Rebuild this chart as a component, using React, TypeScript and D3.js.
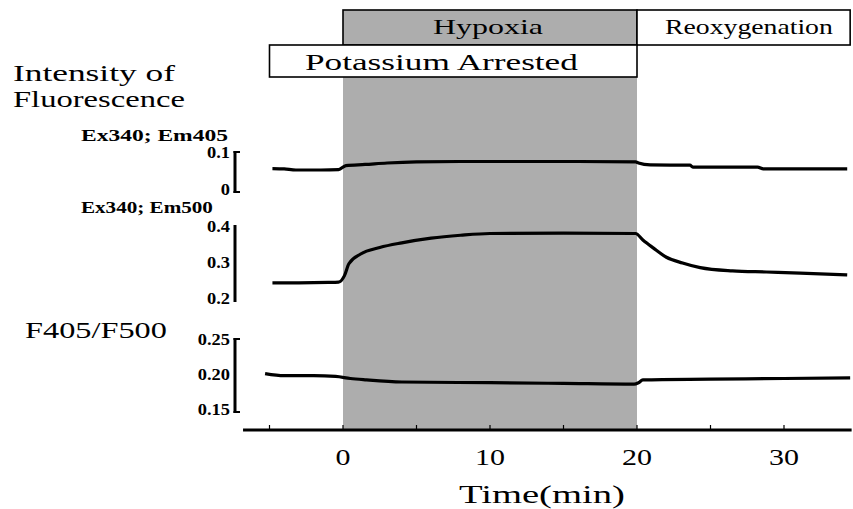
import React, { useLayoutEffect, useRef, useState } from "react";
import * as d3 from "d3";

// Experimental protocol phases (minutes)
const phaseLabels = ["Hypoxia", "Reoxygenation", "Potassium Arrested"];
const phaseStart = [0, 20, -5];
const phaseEnd = [20, 34.5, 20];
const phaseRow = [0, 0, 1];

// Time axis
const timeTicks = [-5, 0, 5, 10, 15, 20, 25, 30];
const timeLabels = [0, 10, 20, 30];

// Ex340; Em405 trace
const t405 = [-4.8, -4, -3.2, -1.5, -0.3, 0.2, 1.5, 3, 5, 8, 12, 16, 19.9, 20.1, 20.9, 23.6, 23.8, 28.2, 28.6, 34.3];
const v405 = [0.058, 0.057, 0.054, 0.054, 0.055, 0.066, 0.069, 0.073, 0.076, 0.077, 0.077, 0.077, 0.076, 0.073, 0.068, 0.067, 0.062, 0.062, 0.057, 0.057];

// Ex340; Em500 trace
const t500 = [-4.8, -3, -1, -0.3, 0.1, 0.4, 1.2, 2.5, 4, 6, 8, 10, 15, 19.9, 20.4, 21.1, 22, 23.1, 24.3, 26.5, 28.8, 31.1, 34.3];
const v500 = [0.245, 0.245, 0.246, 0.247, 0.265, 0.298, 0.325, 0.343, 0.356, 0.369, 0.377, 0.382, 0.383, 0.382, 0.364, 0.342, 0.316, 0.300, 0.287, 0.278, 0.275, 0.272, 0.267];

// F405/F500 ratio trace
const tRatio = [-5.3, -4, -2, -0.5, 0.5, 1.6, 4, 10, 15, 19.8, 20.1, 20.4, 25, 30, 34.5];
const vRatio = [0.202, 0.199, 0.199, 0.198, 0.195, 0.193, 0.190, 0.189, 0.188, 0.187, 0.189, 0.193, 0.194, 0.195, 0.196];

const ticks405 = ["0.1", "0"];
const ticks500 = ["0.4", "0.3", "0.2"];
const ticksRatio = ["0.25", "0.20", "0.15"];

const serif = { fontFamily: '"Liberation Serif"' };

type FitProps = {
  x: number;
  y: number;
  w?: number;
  sx?: number;
  size: number;
  bold?: boolean;
  anchor?: "start" | "middle" | "end";
  children: React.ReactNode;
};

// Text widened horizontally to a target width (or by a fixed factor)
function FitText({ x, y, w, sx = 1, size, bold, anchor = "start", children }: FitProps) {
  const ref = useRef<SVGTextElement>(null);
  const [s, setS] = useState(sx);
  useLayoutEffect(() => {
    if (w && ref.current) {
      const len = ref.current.getComputedTextLength();
      if (len > 0) setS(w / len);
    }
  }, [w, children]);
  return (
    <g transform={`translate(${x},${y}) scale(${s},1)`}>
      <text
        ref={ref}
        style={serif}
        fontSize={size}
        fontWeight={bold ? "bold" : undefined}
        textAnchor={anchor}
        fill="#000"
      >
        {children}
      </text>
    </g>
  );
}

export default function App() {
  const x = d3.scaleLinear().domain([0, 20]).range([343, 637]);
  const y405 = d3.scaleLinear().domain([0, 0.1]).range([190, 153]);
  const y500 = d3.scaleLinear().domain([0.2, 0.4]).range([299, 227]);
  const yRatio = d3.scaleLinear().domain([0.15, 0.25]).range([410, 340]);

  const rowTop = [10, 45];
  const rowH = [35, 32];
  const labelLen = [110, 168, 273];
  const labelLeft = [433, 665, 305];
  const labelBase = [34, 70];
  const axisY = 430;

  const mk = (ys: d3.ScaleLinear<number, number>) =>
    d3
      .line<[number, number]>()
      .x((d) => x(d[0]))
      .y((d) => ys(d[1]))
      .curve(d3.curveMonotoneX);

  const path405 = mk(y405)(t405.map((t, i) => [t, v405[i]]));
  const path500 = mk(y500)(t500.map((t, i) => [t, v500[i]]));
  const pathRatio = mk(yRatio)(tRatio.map((t, i) => [t, vRatio[i]]));

  const bracket = (
    ys: d3.ScaleLinear<number, number>,
    top: number,
    bottom: number,
    feet: boolean
  ) => {
    const bx = 235;
    const y0 = ys(top) - 2;
    const y1 = ys(bottom) + 3;
    return (
      <g stroke="#000" fill="none" strokeWidth={3}>
        <line x1={bx} x2={bx} y1={y0} y2={y1} />
        {feet && <line x1={bx - 1.5} x2={bx + 5} y1={y0 + 1} y2={y0 + 1} strokeWidth={2} />}
        {feet && <line x1={bx - 1.5} x2={bx + 5} y1={y1 - 1} y2={y1 - 1} strokeWidth={2} />}
      </g>
    );
  };

  const tickText = (labels: string[], ys: d3.ScaleLinear<number, number>) =>
    labels.map((l) => (
      <FitText key={l} x={230} y={ys(parseFloat(l)) + 5} sx={1.15} size={16} bold anchor="end">
        {l}
      </FitText>
    ));

  return (
    <svg width={853} height={509} style={{ position: "absolute", left: 0, top: 0 }}>
      <rect width={853} height={509} fill="#fff" />
      {/* hypoxia shading */}
      <rect x={x(0)} y={rowTop[0]} width={x(20) - x(0)} height={axisY - rowTop[0]} fill="#adadad" />

      {/* phase boxes */}
      {phaseLabels.map((lab, i) => {
        const r = phaseRow[i];
        const x0 = x(phaseStart[i]);
        const x1 = x(phaseEnd[i]);
        return (
          <g key={lab}>
            <rect
              x={x0}
              y={rowTop[r]}
              width={x1 - x0}
              height={rowH[r]}
              fill={lab === "Hypoxia" ? "none" : "#fff"}
              stroke="#000"
              strokeWidth={1.6}
            />
            <FitText x={labelLeft[i]} y={labelBase[r]} w={labelLen[i]} size={r === 0 ? 22 : 24}>
              {lab}
            </FitText>
          </g>
        );
      })}

      {/* left titles */}
      <FitText x={13} y={81} w={162} size={24}>Intensity of</FitText>
      <FitText x={13} y={107} w={172} size={24}>Fluorescence</FitText>
      <FitText x={81} y={141} w={147} size={16} bold>Ex340; Em405</FitText>
      <FitText x={81} y={213} w={132} size={16} bold>Ex340; Em500</FitText>
      <FitText x={25} y={338} w={142} size={24}>F405/F500</FitText>

      {/* panel scales */}
      {bracket(y405, 0.1, 0, true)}
      {bracket(y500, 0.4, 0.2, false)}
      {bracket(yRatio, 0.25, 0.15, true)}
      {tickText(ticks405, y405)}
      {tickText(ticks500, y500)}
      {tickText(ticksRatio, yRatio)}

      {/* traces */}
      <g fill="none" stroke="#000" strokeWidth={3.2} strokeLinejoin="round">
        <path d={path405 ?? ""} />
        <path d={path500 ?? ""} />
        <path d={pathRatio ?? ""} />
      </g>

      {/* time axis */}
      <line x1={x(-6.8)} x2={x(34.6)} y1={axisY} y2={axisY} stroke="#000" strokeWidth={3} />
      {timeTicks.map((t) => (
        <line key={t} x1={x(t)} x2={x(t)} y1={axisY} y2={axisY - 5} stroke="#000" strokeWidth={1.2} />
      ))}
      {timeLabels.map((t) => (
        <FitText key={t} x={x(t)} y={465} sx={1.25} size={24} anchor="middle">
          {t}
        </FitText>
      ))}
      <FitText x={459} y={503} w={166} size={25}>Time(min)</FitText>
    </svg>
  );
}
